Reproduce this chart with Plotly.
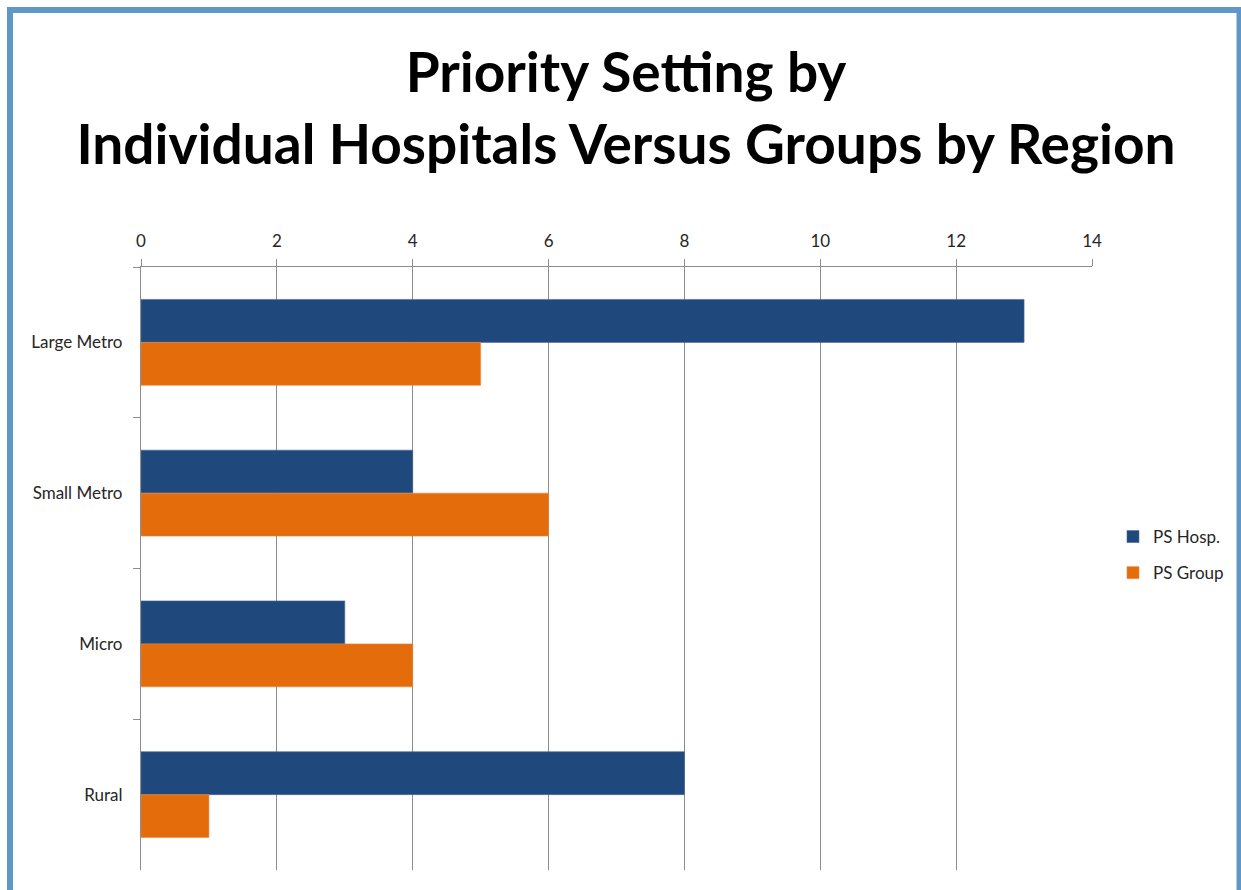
import plotly.graph_objects as go

categories = ["Large Metro", "Small Metro", "Micro", "Rural"]
ps_hosp = [13, 4, 3, 8]
ps_group = [5, 6, 4, 1]
x_ticks = [0, 2, 4, 6, 8, 10, 12, 14]

W, H = 1241, 890
L, R, T, B = 141, 1092, 267, 870

def px(x):
    return (x - L) / (R - L)

def py(y):
    return 1 - (y - T) / (B - T)

fig = go.Figure()
fig.add_trace(go.Bar(y=categories, x=ps_hosp, orientation="h", name="PS Hosp.",
                     legendgroup="a",
                     marker=dict(color="#1f497d", line=dict(color="#4a6a92", width=0.6))))
fig.add_trace(go.Bar(y=categories, x=ps_group, orientation="h", name="PS Group",
                     legendgroup="b",
                     marker=dict(color="#e46c0a", line=dict(color="#e8894a", width=0.6))))

fig.update_layout(
    width=W, height=H,
    margin=dict(l=L, r=W - R, t=T, b=H - B, autoexpand=False),
    paper_bgcolor="white", plot_bgcolor="white",
    barmode="group", bargap=0.43, bargroupgap=0,
    font=dict(family="Lato, sans-serif", size=17, color="#262626"),
    title=dict(text="<b>Priority Setting by<br>Individual Hospitals Versus Groups by Region</b>",
               x=626 / W, xref="container", xanchor="center",
               y=1 - 92 / H, yref="container", yanchor="middle",
               font=dict(family="Lato, sans-serif", size=55, color="black")),
    xaxis=dict(side="top", range=[0, 14], tickvals=x_ticks, showgrid=True,
               gridcolor="#8c8c8c", gridwidth=1, showline=True, linecolor="#8c8c8c",
               linewidth=1.2, ticks="outside", ticklen=7, tickcolor="#8c8c8c",
               ticklabelstandoff=5, zeroline=False, automargin=False,
               tickfont=dict(size=17, color="#262626")),
    yaxis=dict(autorange="reversed", showline=True, linecolor="#8c8c8c", linewidth=1.2,
               ticks="outside", tickson="boundaries", ticklen=7, tickcolor="#8c8c8c",
               ticklabelstandoff=14, showgrid=False, automargin=False,
               tickfont=dict(size=17, color="#262626")),
    legend=dict(x=px(1113), y=py(555), xanchor="left", yanchor="middle",
                font=dict(size=17, color="#262626"), itemwidth=30,
                tracegroupgap=11, bgcolor="rgba(0,0,0,0)"),
    shapes=[dict(type="rect", xref="paper", yref="paper",
                 x0=px(10), x1=px(1239.5), y0=py(10), y1=py(905),
                 line=dict(color="#6096c8", width=6), layer="above")],
    showlegend=True,
)

fig.write_html(
    "out.html",
    config={"displayModeBar": False},
    post_script="document.body.style.margin='0';document.body.style.overflow='hidden';",
)
